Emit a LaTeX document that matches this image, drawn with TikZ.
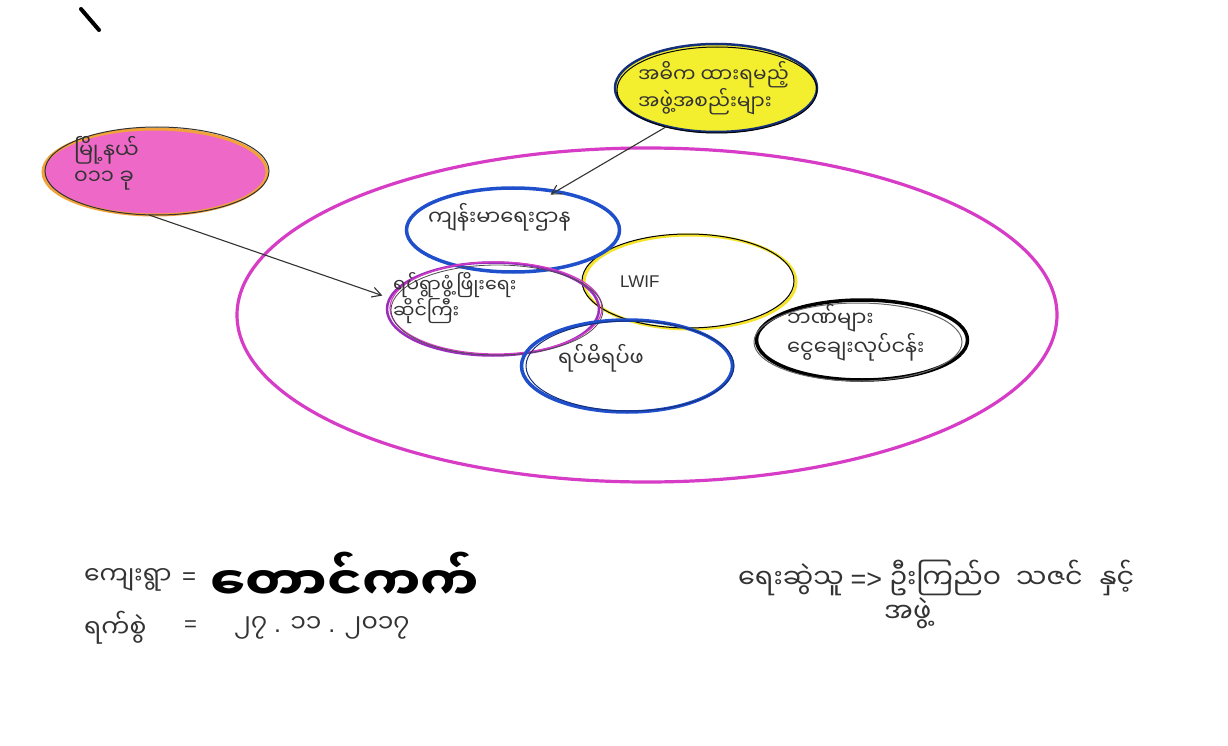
\documentclass[tikz,border=0pt]{standalone}
\usepackage{fontspec}
\newfontfamily\mya[Script=Myanmar]{Noto Sans Myanmar UI}
\newfontfamily\latf{Liberation Sans}
\newcommand\LatTxt[1]{{\latf #1}}
\setmainfont{Liberation Sans}
\usetikzlibrary{shapes.geometric,arrows.meta}
\definecolor{mag}{HTML}{D63CC6}
\definecolor{ylw}{HTML}{F4EF2E}
\definecolor{pnk}{HTML}{EE68C8}
\definecolor{org}{HTML}{F2A23A}
\definecolor{blu}{HTML}{1F4FCB}
\definecolor{pur}{HTML}{9A2DBB}
\definecolor{ink}{HTML}{333333}
\tikzset{
  ell/.style={ellipse, inner sep=0pt, outer sep=0pt},
  lbl/.style={font=\mya\fontsize{21}{26}\selectfont, inner sep=0pt, align=left, text=ink},
  big lbl/.style={font=\mya\fontsize{25}{30}\selectfont, inner sep=0pt, text=ink},
  arr/.style={draw=ink, line width=1.1pt, -{Straight Barb[length=9pt,width=10pt]}},
}
\begin{document}
\begin{tikzpicture}[x=1pt,y=-1pt]
\useasboundingbox (0,0) rectangle (1228,746);
\fill[white] (0,0) rectangle (1228,746);

% pen stroke top-left
\draw[line width=4pt, line cap=round, black] (81,9) -- (99,30);

% big ellipse
\node[ell, draw=mag, line width=3.2pt, minimum width=820pt, minimum height=334pt] (big) at (647,315) {};

% yellow top circle
\node[ell, fill=ylw, draw=blu!60!black, line width=2.5pt, minimum width=202pt, minimum height=88pt] (yel) at (716,88) {};
\draw[black, line width=1pt] (717,90) ellipse [x radius=100pt, y radius=43pt];

% pink ellipse
\node[ell, fill=pnk, draw=org, line width=3pt, minimum width=224pt, minimum height=86pt] (pink) at (155,172) {};
\draw[black!80, line width=1pt] (157,171) ellipse [x radius=112pt, y radius=44pt];

% LWIF yellow ellipse
\node[ell, draw=ylw!90!orange, line width=3pt, minimum width=212pt, minimum height=94pt] (lwif) at (690,282) {};
\draw[black, line width=1pt] (688,281) ellipse [x radius=106pt, y radius=47pt];

% blue top
\node[ell, draw=blu, line width=3.5pt, minimum width=213pt, minimum height=84pt] (btop) at (513,230) {};

% purple ellipse
\node[ell, draw=pur, line width=2.5pt, minimum width=212pt, minimum height=93pt] (purp) at (493,309) {};
\draw[mag, line width=1.2pt] (496,308) ellipse [x radius=106pt, y radius=46pt];
\draw[black!70, line width=0.8pt] (497,310) ellipse [x radius=106pt, y radius=45pt];

% blue bottom
\node[ell, draw=blu, line width=3.5pt, minimum width=211pt, minimum height=92pt] (bbot) at (627,366) {};
\draw[blu!60!black, line width=1pt] (630,366) ellipse [x radius=104pt, y radius=45pt];

% black ellipse
\node[ell, draw=black, line width=3.5pt, minimum width=211pt, minimum height=80pt] (blk) at (862,340) {};
\draw[black!60, line width=1pt] (858,342) ellipse [x radius=104pt, y radius=39pt];

% arrows
\draw[arr, shorten >=-6pt] (yel.218) -- (btop.42);
\draw[arr, shorten >=8pt] (pink.262) -- (purp.174);

% labels inside shapes
\node[lbl, anchor=west, font=\mya\fontsize{20}{27}\selectfont] (tyel) at (638,88) {အဓိက ထားရမည့်\\ အဖွဲ့အစည်းများ};
\node[lbl, anchor=west] (tpink) at (74,163) {မြို့နယ်\\ ၀၁၁ ခု};
\node[lbl, anchor=west] (tbtop) at (428,217) {ကျန်းမာရေးဌာန};
\node[lbl, anchor=west, font=\mya\fontsize{19}{25}\selectfont] (tpurp) at (393,298) {ရပ်ရွာဖွံ့ဖြိုးရေး\\ ဆိုင်ကြီး};
\node[font=\latf\fontsize{17}{20}\selectfont, text=ink, inner sep=0pt, anchor=west] (tlwif) at (620,282) {LWIF};
\node[lbl, anchor=west] (tbbot) at (558,358) {ရပ်မိရပ်ဖ};
\node[lbl, anchor=west] (tblk) at (787,333) {ဘဏ်များ\\ ငွေချေးလုပ်ငန်း};

% bottom texts
\node[big lbl, anchor=west] (vill) at (84,580) {ကျေးရွာ};
\node[big lbl, anchor=west, font=\latf\fontsize{24}{28}\selectfont] (veq) at (182,579) {=};
\node[anchor=west, inner sep=0pt, text=black, font=\mya\bfseries\fontsize{46}{50}\selectfont, xscale=1.14, transform shape] (vname) at (210,576) {တောင်ကက်};
\node[big lbl, anchor=west] (date) at (84,628) {ရက်စွဲ};
\node[big lbl, anchor=west, font=\latf\fontsize{22}{26}\selectfont] (deq) at (184,626) {=};
\node[big lbl, anchor=west] (dval) at (234,628) {၂၇\LatTxt{ . }၁၁\LatTxt{ . }၂၀၁၇};
\node[big lbl, anchor=west, font=\mya\fontsize{27}{32}\selectfont] (auth) at (738,578) {ရေးဆွဲသူ \LatTxt{=>} ဦးကြည်ဝ\hspace{8pt} သဇင်\hspace{10pt} နှင့်};
\node[big lbl, anchor=west, font=\mya\fontsize{27}{32}\selectfont] (auth2) at (884,613) {အဖွဲ့};
\end{tikzpicture}
\end{document}
